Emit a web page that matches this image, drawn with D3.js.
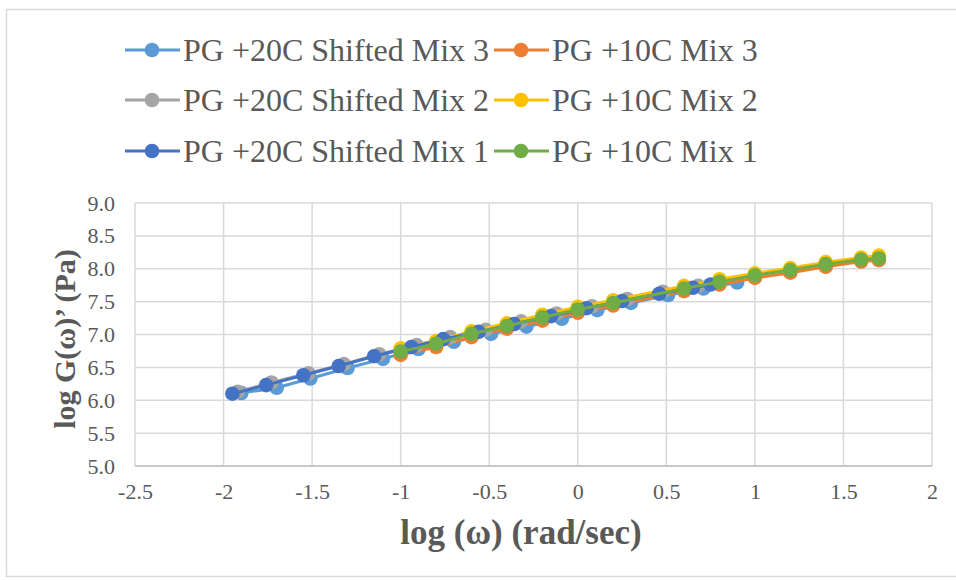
<!DOCTYPE html>
<html lang="en">
<head>
<meta charset="UTF-8" />
<title>log G' vs log w</title>
<script src="https://cdnjs.cloudflare.com/ajax/libs/d3/7.8.5/d3.min.js"></script>
<style>
  body { margin: 0; background: #fff; }
  text { font-family: "Liberation Serif", "Times New Roman", serif; fill: #595959; }
</style>
</head>
<body>
<script>
// series names in the order they are drawn (same as legend, row by row)
var seriesNames = ["PG +20C Shifted Mix 3", "PG +10C Mix 3",
                   "PG +20C Shifted Mix 2", "PG +10C Mix 2",
                   "PG +20C Shifted Mix 1", "PG +10C Mix 1"];
var seriesColors = ["#5B9BD5", "#ED7D31", "#A5A5A5", "#FFC000", "#4472C4", "#70AD47"];

// shifted (+20C) data
var shift3X = [-1.90, -1.70, -1.51, -1.30, -1.10, -0.90, -0.70, -0.49, -0.29, -0.09, 0.11, 0.30, 0.51, 0.71, 0.90];
var shift3Y = [6.11, 6.19, 6.33, 6.49, 6.63, 6.78, 6.89, 7.01, 7.12, 7.24, 7.37, 7.48, 7.60, 7.70, 7.79];
var shift2X = [-1.92, -1.73, -1.52, -1.32, -1.12, -0.91, -0.72, -0.52, -0.32, -0.12, 0.08, 0.28, 0.48, 0.68];
var shift2Y = [6.13, 6.27, 6.41, 6.55, 6.70, 6.84, 6.96, 7.07, 7.20, 7.32, 7.43, 7.54, 7.65, 7.74];
var shift1X = [-1.95, -1.76, -1.55, -1.35, -1.15, -0.94, -0.76, -0.56, -0.36, -0.15, 0.05, 0.25, 0.46, 0.65, 0.75];
var shift1Y = [6.10, 6.23, 6.38, 6.52, 6.67, 6.81, 6.93, 7.04, 7.16, 7.28, 7.40, 7.51, 7.62, 7.71, 7.76];

// +10C data
var tenX  = [-1.0, -0.8, -0.6, -0.4, -0.2, 0.0, 0.2, 0.6, 0.8, 1.0, 1.2, 1.4, 1.6, 1.7];
var ten3Y = [6.69, 6.81, 6.96, 7.09, 7.21, 7.33, 7.44, 7.66, 7.76, 7.86, 7.94, 8.03, 8.11, 8.13];
var ten2Y = [6.79, 6.90, 7.05, 7.17, 7.30, 7.42, 7.52, 7.74, 7.84, 7.93, 8.01, 8.10, 8.17, 8.20];
var ten1Y = [6.74, 6.86, 7.01, 7.13, 7.26, 7.38, 7.48, 7.70, 7.80, 7.90, 7.98, 8.07, 8.14, 8.16];

var xTicks = [-2.5, -2, -1.5, -1, -0.5, 0, 0.5, 1, 1.5, 2];
var yTicks = [5.0, 5.5, 6.0, 6.5, 7.0, 7.5, 8.0, 8.5, 9.0];

var seriesX = [shift3X, tenX, shift2X, tenX, shift1X, tenX];
var seriesY = [shift3Y, ten3Y, shift2Y, ten2Y, shift1Y, ten1Y];

var W = 956, H = 580;
var pLeft = 135, pRight = 932, pTop = 203, pBottom = 466;

var svg = d3.select("body").append("svg")
            .attr("width", W)
            .attr("height", H);

// chart frame
svg.append("rect")
   .attr("x", 6.5).attr("y", 9.5)
   .attr("width", 960).attr("height", 567)
   .attr("fill", "#fff")
   .attr("stroke", "#D9D9D9")
   .attr("stroke-width", 1.5);

var xScale = d3.scaleLinear().domain([-2.5, 2]).range([pLeft, pRight]);
var yScale = d3.scaleLinear().domain([5, 9]).range([pBottom, pTop]);

// gridlines
svg.append("g").selectAll("line")
   .data(xTicks).enter().append("line")
   .attr("x1", function(d) { return xScale(d); })
   .attr("x2", function(d) { return xScale(d); })
   .attr("y1", pTop).attr("y2", pBottom)
   .attr("stroke", "#D9D9D9").attr("stroke-width", 1.5);

svg.append("g").selectAll("line")
   .data(yTicks).enter().append("line")
   .attr("x1", pLeft).attr("x2", pRight)
   .attr("y1", function(d) { return yScale(d); })
   .attr("y2", function(d) { return yScale(d); })
   .attr("stroke", "#D9D9D9").attr("stroke-width", 1.5);

// bottom axis line
svg.append("line")
   .attr("x1", pLeft).attr("x2", pRight)
   .attr("y1", pBottom).attr("y2", pBottom)
   .attr("stroke", "#BFBFBF").attr("stroke-width", 1.5);

// axes (labels only), hyphen minus like the original
var xAxis = d3.axisBottom(xScale).tickValues(xTicks).tickSize(0).tickPadding(0)
              .tickFormat(function(d) { return String(d); });
var gx = svg.append("g")
   .attr("transform", "translate(0," + pBottom + ")")
   .call(xAxis);
gx.select(".domain").remove();
gx.selectAll("text")
  .attr("y", 26).attr("dy", "0.32em")
  .style("font-family", "Liberation Serif").style("font-size", "22px").attr("fill", "#595959");

var yAxis = d3.axisLeft(yScale).tickValues(yTicks).tickSize(0).tickPadding(0)
              .tickFormat(function(d) { return d.toFixed(1); });
var gy = svg.append("g")
   .attr("transform", "translate(" + pLeft + ",0)")
   .call(yAxis);
gy.select(".domain").remove();
gy.selectAll("text")
  .attr("x", -20).attr("dy", "0.32em")
  .style("font-family", "Liberation Serif").style("font-size", "22px").attr("fill", "#595959");

// axis titles
svg.append("text")
   .attr("x", 521).attr("y", 532)
   .attr("dy", "0.35em")
   .attr("text-anchor", "middle")
   .style("font-size", "35px").style("font-weight", "bold")
   .text("log (ω) (rad/sec)");

svg.append("text")
   .attr("transform", "translate(64,339) rotate(-90)")
   .attr("dy", "0.35em")
   .attr("text-anchor", "middle")
   .style("font-size", "30px").style("font-weight", "bold")
   .text("log G(ω)’ (Pa)");

// lines + markers, series by series
var line = d3.line()
  .x(function(d) { return xScale(d[0]); })
  .y(function(d) { return yScale(d[1]); });

seriesNames.forEach(function(name, i) {
  var pts = seriesX[i].map(function(x, j) { return [x, seriesY[i][j]]; });
  var g = svg.append("g").attr("class", "series");
  g.append("path")
   .datum(pts)
   .attr("d", line)
   .attr("fill", "none")
   .attr("stroke", seriesColors[i])
   .attr("stroke-width", 3);
  g.selectAll("circle")
   .data(pts).enter().append("circle")
   .attr("cx", function(d) { return xScale(d[0]); })
   .attr("cy", function(d) { return yScale(d[1]); })
   .attr("r", 7.3)
   .attr("fill", seriesColors[i]);
});

// legend, 2 columns x 3 rows
var legendCols = [125, 494];
var legendRows = [50, 100, 151];
var legend = svg.append("g").selectAll("g")
   .data(seriesNames).enter().append("g")
   .attr("transform", function(d, i) {
     return "translate(" + legendCols[i % 2] + "," + legendRows[Math.floor(i / 2)] + ")";
   });
legend.append("line")
   .attr("x1", 0).attr("x2", 55)
   .attr("stroke", function(d, i) { return seriesColors[i]; })
   .attr("stroke-width", 3);
legend.append("circle")
   .attr("cx", 27).attr("r", 7.3)
   .attr("fill", function(d, i) { return seriesColors[i]; });
legend.append("text")
   .attr("x", 58).attr("dy", "0.35em")
   .style("font-size", "32px")
   .text(function(d) { return d; });
</script>
</body>
</html>
